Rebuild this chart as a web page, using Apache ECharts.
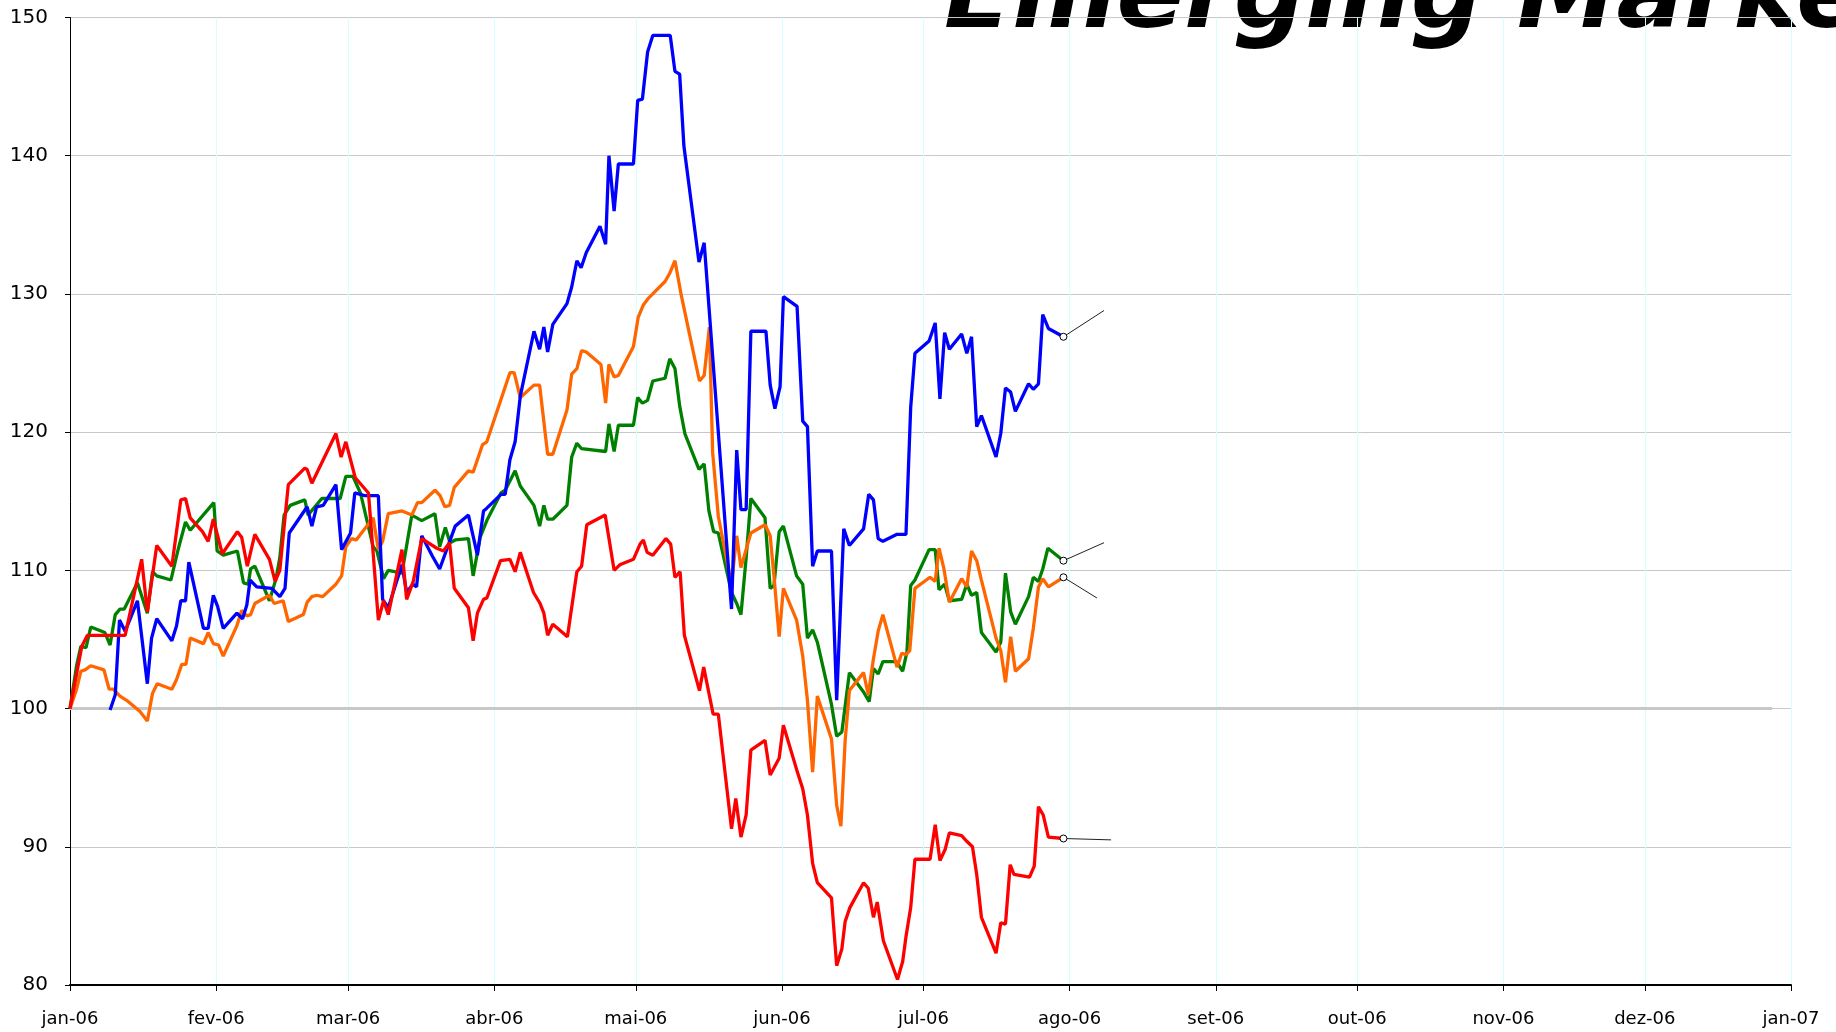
<!DOCTYPE html>
<html>
<head>
<meta charset="utf-8">
<title>Emerging Markets</title>
<script src="https://cdn.jsdelivr.net/npm/echarts@6/dist/echarts.min.js"></script>
<style>
  html, body { margin: 0; padding: 0; background: #fff; }
  #chart { width: 1836px; height: 1032px; }
</style>
</head>
<body>
<div id="chart"></div>
<script>
// x = days since 1 jan 2006, y = index (start = 100)
const monthStarts = [0, 31, 59, 90, 120, 151, 181, 212, 243, 273, 304, 334, 365];
const monthLabels = ["jan-06", "fev-06", "mar-06", "abr-06", "mai-06", "jun-06", "jul-06",
  "ago-06", "set-06", "out-06", "nov-06", "dez-06", "jan-07"];
const yTicks = [80, 90, 100, 110, 120, 130, 140, 150];
const baseLine = [[0, 100], [361, 100]];

const blue = [
  [8.5, 99.9], [9.6, 101.0], [10.5, 106.4], [11.7, 105.6], [14.3, 107.8], [16.4, 101.8], [17.3, 105.1],
  [18.4, 106.5], [21.6, 104.9], [22.6, 106.0], [23.5, 107.8], [24.5, 107.8], [25.2, 110.6], [28.3, 105.8],
  [29.3, 105.8], [30.4, 108.2], [31.3, 107.4], [32.5, 105.8], [35.4, 106.9], [36.6, 106.5], [37.5, 107.5],
  [38.2, 109.3], [39.6, 108.8], [42.8, 108.7], [44.5, 108.1], [45.6, 108.7], [46.5, 112.7], [50.3, 114.6],
  [51.3, 113.2], [52.3, 114.6], [53.7, 114.7], [56.4, 116.2], [57.6, 111.5], [59.5, 112.7], [60.4, 115.6],
  [62.6, 115.4], [65.4, 115.4], [66.3, 107.9], [67.5, 107.3], [70.4, 110.4], [71.4, 108.4], [72.7, 109.0],
  [73.5, 108.8], [74.6, 112.5], [76.9, 111.0], [78.4, 110.1], [81.7, 113.2], [84.5, 114.0], [86.4, 111.1],
  [87.7, 114.3], [88.4, 114.5], [91.4, 115.5], [92.3, 115.5], [93.3, 118.0], [94.4, 119.3], [95.5, 122.6],
  [98.4, 127.3], [99.6, 126.0], [100.5, 127.6], [101.3, 125.8], [102.4, 127.8], [105.4, 129.3], [106.4, 130.5],
  [107.5, 132.4], [108.4, 131.9], [109.5, 133.0], [112.4, 134.9], [113.6, 133.6], [114.3, 140.0], [115.4, 136.0],
  [116.3, 139.4], [119.5, 139.4], [120.4, 144.0], [121.4, 144.1], [122.5, 147.5], [123.6, 148.7], [127.3, 148.7],
  [128.3, 146.1], [129.3, 145.9], [130.2, 140.7], [133.4, 132.3], [134.5, 133.7], [140.3, 107.2], [141.4, 118.7],
  [142.3, 114.4], [143.4, 114.4], [144.4, 127.3], [147.6, 127.3], [148.5, 123.4], [149.5, 121.7], [150.6, 123.3],
  [151.3, 129.8], [154.2, 129.1], [155.4, 120.8], [156.4, 120.4], [157.5, 110.3], [158.5, 111.4], [161.5, 111.4],
  [162.6, 100.6], [164.1, 113.0], [165.3, 111.8], [168.3, 113.0], [169.4, 115.5], [170.4, 115.1], [171.4, 112.3],
  [172.4, 112.1], [175.3, 112.6], [177.3, 112.6], [178.3, 121.8], [179.2, 125.7], [182.2, 126.6], [183.5, 127.9],
  [184.5, 122.4], [185.5, 127.2], [186.5, 126.0], [189.1, 127.1], [190.2, 125.7], [191.2, 126.9], [192.3, 120.4],
  [193.3, 121.2], [196.4, 118.2], [197.4, 119.9], [198.4, 123.2], [199.5, 122.9], [200.5, 121.5], [203.3, 123.5],
  [204.3, 123.1], [205.4, 123.5], [206.3, 128.5], [207.5, 127.5], [210.7, 126.9]
];

const green = [
  [0, 100], [1.4, 103.1], [2.3, 104.5], [3.4, 104.4], [4.4, 105.9], [7.4, 105.5], [8.5, 104.6], [9.6, 106.8],
  [10.6, 107.2], [11.5, 107.2], [14.3, 109.1], [16.4, 106.9], [17.5, 109.9], [18.4, 109.6], [21.4, 109.3],
  [23.0, 111.6], [24.5, 113.5], [25.5, 112.9], [30.5, 114.9], [31.2, 111.4], [32.5, 111.1], [35.5, 111.4],
  [36.8, 109.1], [37.8, 109.0], [38.3, 110.1], [39.2, 110.3], [42.3, 107.8], [43.7, 109.4], [44.5, 110.9],
  [45.4, 114.0], [46.7, 114.7], [49.8, 115.1], [50.5, 114.0], [53.4, 115.2], [57.3, 115.2], [58.5, 116.8],
  [60.0, 116.8], [61.6, 115.6], [64.3, 111.7], [65.1, 111.4], [66.5, 109.4], [67.5, 110.0], [70.4, 109.8],
  [72.5, 114.0], [74.6, 113.6], [77.4, 114.1], [78.4, 111.7], [79.6, 113.1], [80.6, 112.0], [81.7, 112.2],
  [84.5, 112.3], [85.5, 109.6], [87.0, 112.4], [88.4, 113.6], [91.4, 115.6], [92.3, 115.8], [94.4, 117.2],
  [95.5, 116.1], [98.4, 114.7], [99.6, 113.2], [100.5, 114.7], [101.3, 113.7], [102.4, 113.7], [105.4, 114.7],
  [106.4, 118.2], [107.5, 119.2], [108.5, 118.8], [113.6, 118.6], [114.3, 120.6], [115.4, 118.6], [116.3, 120.5],
  [119.5, 120.5], [120.4, 122.5], [121.4, 122.1], [122.5, 122.3], [123.6, 123.7], [126.2, 123.9], [127.2, 125.3],
  [128.3, 124.6], [129.3, 121.9], [130.4, 119.9], [133.4, 117.3], [134.5, 117.7], [135.5, 114.3], [136.5, 112.8],
  [137.5, 112.7], [140.3, 108.4], [141.4, 107.6], [142.3, 106.8], [143.4, 110.9], [144.4, 115.2], [147.4, 113.8],
  [148.5, 108.7], [149.3, 108.9], [150.4, 112.8], [151.3, 113.2], [154.1, 109.6], [155.4, 109.0], [156.4, 105.1],
  [157.5, 105.7], [158.5, 104.8], [161.5, 100.3], [162.6, 98.0], [163.7, 98.3], [165.3, 102.6], [168.3, 101.2],
  [169.5, 100.5], [170.4, 102.9], [171.4, 102.5], [172.4, 103.4], [175.3, 103.4], [176.6, 102.7], [177.5, 104.1],
  [178.3, 108.9], [179.2, 109.3], [182.2, 111.5], [183.5, 111.5], [184.3, 108.6], [185.5, 109.0], [186.5, 107.8],
  [189.1, 107.9], [190.2, 109.0], [191.2, 108.2], [192.3, 108.4], [193.3, 105.5], [196.4, 104.1], [197.4, 104.8],
  [198.4, 109.8], [199.5, 107.0], [200.5, 106.1], [203.3, 108.1], [204.3, 109.5], [205.4, 109.2], [206.3, 110.1],
  [207.4, 111.6], [210.7, 110.7]
];

const orange = [
  [0, 100], [1.4, 101.4], [2.3, 102.7], [3.2, 102.8], [4.4, 103.1], [7.2, 102.8], [8.3, 101.4], [9.2, 101.4],
  [10.6, 100.9], [12.0, 100.6], [14.8, 99.8], [16.4, 99.1], [17.5, 101.1], [18.5, 101.8], [21.6, 101.4],
  [22.6, 102.1], [23.7, 103.2], [24.6, 103.2], [25.5, 105.1], [28.3, 104.7], [29.3, 105.5], [30.4, 104.7],
  [31.5, 104.6], [32.5, 103.8], [35.4, 106.0], [36.4, 107.1], [37.5, 106.7], [38.3, 106.8], [39.2, 107.6],
  [42.3, 108.2], [43.3, 107.6], [45.2, 107.8], [46.3, 106.3], [49.5, 106.8], [50.3, 107.7], [51.3, 108.1],
  [52.3, 108.2], [53.6, 108.1], [56.4, 109.0], [57.6, 109.6], [58.5, 111.7], [59.7, 112.3], [60.7, 112.2],
  [64.3, 113.8], [65.4, 111.5], [66.3, 112.1], [67.5, 114.1], [70.4, 114.3], [72.5, 114.0], [73.7, 114.9],
  [74.6, 114.9], [77.4, 115.8], [78.5, 115.4], [79.5, 114.6], [80.5, 114.7], [81.5, 116.0], [84.5, 117.2],
  [85.5, 117.1], [87.5, 119.1], [88.4, 119.3], [93.3, 124.3], [94.2, 124.3], [95.5, 122.5], [98.4, 123.4],
  [99.6, 123.4], [101.3, 118.4], [102.4, 118.4], [105.4, 121.6], [106.4, 124.2], [107.5, 124.6], [108.5, 125.9],
  [109.5, 125.8], [112.6, 124.9], [113.6, 122.1], [114.3, 124.9], [115.4, 124.0], [116.3, 124.1], [119.5, 126.2],
  [120.5, 128.3], [121.6, 129.2], [122.7, 129.7], [126.2, 130.9], [127.2, 131.5], [128.3, 132.4], [129.7, 129.8],
  [133.5, 123.7], [134.5, 124.1], [135.6, 127.6], [136.3, 118.5], [137.5, 113.9], [140.3, 109.0], [141.4, 112.5],
  [142.3, 110.2], [144.4, 112.7], [147.4, 113.3], [148.5, 112.5], [149.3, 109.6], [150.4, 105.2], [151.3, 108.7],
  [154.1, 106.4], [155.4, 103.8], [156.4, 100.6], [157.5, 95.4], [158.5, 100.9], [161.5, 97.8], [162.6, 93.0],
  [163.5, 91.5], [164.4, 97.7], [165.3, 101.3], [168.3, 102.6], [169.3, 101.0], [170.4, 103.6], [171.4, 105.6],
  [172.4, 106.8], [175.4, 103.0], [176.4, 104.0], [177.3, 103.9], [178.1, 104.2], [179.2, 108.7], [182.4, 109.5],
  [183.5, 109.2], [184.3, 111.6], [185.3, 110.2], [186.5, 107.7], [189.1, 109.4], [190.2, 108.8], [191.2, 111.4],
  [192.3, 110.7], [193.3, 109.3], [196.4, 105.1], [197.4, 104.2], [198.4, 101.9], [199.5, 105.2], [200.5, 102.7],
  [203.3, 103.6], [204.3, 105.8], [205.4, 108.8], [206.3, 109.4], [207.5, 108.8], [210.7, 109.5]
];

const red = [
  [0, 100], [2.5, 104.5], [3.7, 105.3], [11.7, 105.3], [15.2, 110.8], [16.4, 107.0], [18.4, 111.8], [21.6, 110.3],
  [23.5, 115.1], [24.5, 115.2], [25.5, 113.8], [28.1, 112.8], [29.3, 112.1], [30.4, 113.7], [32.3, 111.2],
  [35.5, 112.8], [36.4, 112.4], [37.6, 110.3], [39.2, 112.6], [42.3, 110.8], [43.5, 109.2], [44.5, 110.0],
  [46.3, 116.2], [49.8, 117.4], [50.3, 117.3], [51.3, 116.3], [56.4, 119.9], [57.5, 118.2], [58.5, 119.3],
  [60.5, 116.7], [63.3, 115.6], [65.4, 106.4], [66.5, 107.8], [67.5, 106.8], [70.4, 111.5], [71.4, 107.9],
  [72.8, 109.2], [74.6, 112.3], [77.8, 111.6], [79.2, 111.4], [80.5, 112.0], [81.5, 108.7], [84.5, 107.3],
  [85.5, 104.9], [86.4, 106.9], [87.7, 107.9], [88.4, 108.0], [91.3, 110.7], [93.3, 110.8], [94.4, 109.9],
  [95.5, 111.3], [98.3, 108.4], [99.7, 107.6], [100.5, 106.9], [101.3, 105.3], [102.4, 106.1], [105.5, 105.2],
  [107.5, 109.9], [108.5, 110.3], [109.6, 113.3], [113.5, 114.0], [115.4, 110.0], [116.6, 110.4], [119.5, 110.8],
  [120.9, 111.9], [121.6, 112.2], [122.4, 111.3], [123.6, 111.1], [126.4, 112.3], [127.4, 111.9], [128.3, 109.5],
  [129.4, 109.9], [130.3, 105.3], [133.5, 101.3], [134.4, 103.0], [136.4, 99.6], [137.5, 99.6], [140.3, 91.3],
  [141.2, 93.5], [142.3, 90.7], [143.4, 92.3], [144.4, 97.0], [147.4, 97.7], [148.5, 95.2], [150.4, 96.4],
  [151.3, 98.8], [154.1, 95.6], [155.4, 94.2], [156.4, 92.3], [157.5, 88.8], [158.5, 87.4], [161.5, 86.3],
  [162.6, 81.4], [163.7, 82.6], [164.4, 84.6], [165.4, 85.6], [168.3, 87.4], [169.3, 87.0], [170.4, 84.9],
  [171.2, 86.0], [172.5, 83.2], [175.5, 80.4], [176.6, 81.7], [177.3, 83.5], [178.3, 85.6], [179.2, 89.1],
  [182.4, 89.1], [183.5, 91.6], [184.5, 89.0], [185.6, 89.8], [186.5, 91.0], [189.1, 90.8], [190.2, 90.4],
  [191.4, 90.0], [192.3, 88.0], [193.3, 84.9], [196.4, 82.3], [197.4, 84.5], [198.4, 84.4], [199.4, 88.7],
  [200.2, 88.0], [203.5, 87.8], [204.5, 88.6], [205.4, 92.9], [206.4, 92.3], [207.5, 90.7], [210.7, 90.6]
];

// where the (empty) label leader lines end
const blueLeader = [219.3, 128.8];
const greenLeader = [219.3, 112.0];
const orangeLeader = [217.8, 108.0];
const redLeader = [220.8, 90.5];

function makeSeries(name, data, color, leaderEnd) {
  const last = data[data.length - 1];
  return {
    name: name,
    type: "line",
    data: data,
    showSymbol: false,
    lineStyle: { color: color, width: 3.3 },
    itemStyle: { color: color },
    z: 3,
    markLine: {
      silent: true,
      symbol: ["none", "none"],
      label: { show: false },
      lineStyle: { color: "#222", width: 1, type: "solid" },
      data: [[{ coord: last }, { coord: leaderEnd }]]
    },
    markPoint: {
      silent: true,
      symbol: "circle",
      symbolSize: 7,
      label: { show: false },
      itemStyle: { color: "#fff", borderColor: "#000", borderWidth: 1 },
      data: [{ coord: last }]
    }
  };
}

const chart = echarts.init(document.getElementById("chart"));
chart.setOption({
  animation: false,
  backgroundColor: "#fff",
  grid: { left: 70, right: 45, top: 17.5, bottom: 47, containLabel: false },
  graphic: [{
    type: "text",
    left: 944,
    top: -49,
    style: {
      text: "Emerging Markets",
      font: 'italic bold 100px "DejaVu Sans"',
      fill: "#000"
    }
  }],
  xAxis: {
    type: "value",
    min: 0,
    max: 365,
    axisLine: { lineStyle: { color: "#000", width: 2 } },
    axisTick: { customValues: monthStarts, length: 6, lineStyle: { color: "#000" } },
    axisLabel: {
      customValues: monthStarts,
      margin: 25,
      color: "#000",
      fontFamily: "DejaVu Sans",
      fontSize: 18,
      formatter: function (v) { return monthLabels[monthStarts.indexOf(v)]; }
    },
    splitLine: { show: true, lineStyle: { color: "#d6ffff", width: 1 } }
  },
  yAxis: {
    type: "value",
    min: yTicks[0],
    max: yTicks[yTicks.length - 1],
    interval: 10,
    axisLine: { show: true, lineStyle: { color: "#000", width: 1 } },
    axisTick: { show: true, length: 5, lineStyle: { color: "#000" } },
    axisLabel: { margin: 22, color: "#000", fontFamily: "DejaVu Sans", fontSize: 20 },
    splitLine: { lineStyle: { color: "#c8c8c8", width: 1 } }
  },
  series: [
    {
      name: "base",
      type: "line",
      data: baseLine,
      showSymbol: false,
      lineStyle: { color: "#c8c8c8", width: 3 },
      z: 2
    },
    makeSeries("green", green, "#008000", greenLeader),
    makeSeries("orange", orange, "#ff6600", orangeLeader),
    makeSeries("blue", blue, "#0000ff", blueLeader),
    makeSeries("red", red, "#ff0000", redLeader)
  ]
});
</script>
</body>
</html>
